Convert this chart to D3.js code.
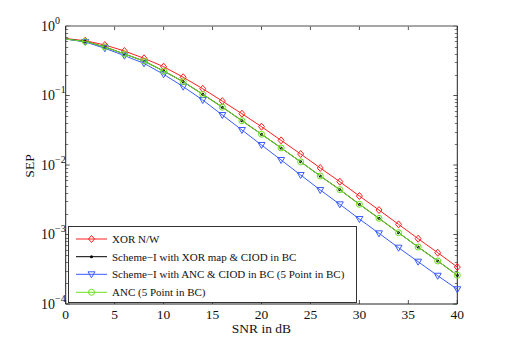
<!DOCTYPE html>
<html>
<head>
<meta charset="utf-8">
<script src="https://cdn.jsdelivr.net/npm/d3@7"></script>
<style>
  body { margin: 0; background: #fff; }
  text { font-family: "Liberation Serif", "DejaVu Serif", serif; fill: #111; }
</style>
</head>
<body>
<div id="chart"></div>
<script>
// SNR points (dB)
const snr = [0, 2, 4, 6, 8, 10, 12, 14, 16, 18, 20, 22, 24, 26, 28, 30, 32, 34, 36, 38, 40];

// SEP values
const xorNW = [0.66, 0.614, 0.533, 0.437, 0.343, 0.26, 0.183, 0.125, 0.083, 0.0547, 0.0356,
  0.0226, 0.0144, 0.00906, 0.00575, 0.00358, 0.00225, 0.0014, 0.00087, 0.000547, 0.00034];
const schemeXor = [0.65, 0.598, 0.499, 0.396, 0.313, 0.225, 0.158, 0.104, 0.068, 0.0434, 0.0277,
  0.0176, 0.0111, 0.00695, 0.00441, 0.00272, 0.00171, 0.00106, 0.00066, 0.000416, 0.000259];
const schemeAnc = [0.65, 0.589, 0.478, 0.374, 0.29, 0.202, 0.134, 0.086, 0.0524, 0.0319, 0.0194,
  0.0118, 0.00718, 0.00437, 0.00272, 0.00167, 0.00104, 0.000646, 0.000406, 0.000255, 0.000163];
const anc5 = schemeXor.slice();

const seriesNames = ["XOR N/W", "Scheme\u2212I with XOR map & CIOD in BC",
  "Scheme\u2212I with ANC & CIOD in BC (5 Point in BC)", "ANC (5 Point in BC)"];
const seriesColors = ["#ff1f1f", "#000000", "#3a5cff", "#6ae01c"];
const seriesMarkers = ["diamond", "dot", "triangle", "circle"];
const seriesValues = [xorNW, schemeXor, schemeAnc, anc5];

const xTicks = [0, 5, 10, 15, 20, 25, 30, 35, 40];
const yExps = [0, -1, -2, -3, -4];

const W = 505, H = 346;
const pLeft = 65.7, pRight = 457.3, pTop = 26, pBottom = 304;

const svg = d3.select("#chart").append("svg")
    .attr("width", W).attr("height", H);

const x = d3.scaleLinear().domain([0, 40]).range([pLeft, pRight]);
const y = d3.scaleLog().domain([1e-4, 1]).range([pBottom, pTop]);

// ticks: inward, on all four sides
const minor = y.ticks().filter(v => Math.abs(Math.log10(v) - Math.round(Math.log10(v))) > 1e-6);
const tickCol = "#555";

const gx = svg.append("g");
gx.append("g").selectAll("line").data(xTicks).enter().append("line")
    .attr("x1", d => x(d)).attr("x2", d => x(d))
    .attr("y1", pBottom).attr("y2", pBottom - 4).attr("stroke", tickCol);
gx.append("g").selectAll("line").data(xTicks).enter().append("line")
    .attr("x1", d => x(d)).attr("x2", d => x(d))
    .attr("y1", pTop).attr("y2", pTop + 4).attr("stroke", tickCol);

const gy = svg.append("g");
[pLeft, pRight].forEach((px, i) => {
  const dir = i === 0 ? 1 : -1;
  gy.append("g").selectAll("line").data(yExps).enter().append("line")
      .attr("x1", px).attr("x2", px + dir * 4)
      .attr("y1", d => y(Math.pow(10, d))).attr("y2", d => y(Math.pow(10, d)))
      .attr("stroke", tickCol);
  gy.append("g").selectAll("line").data(minor).enter().append("line")
      .attr("x1", px).attr("x2", px + dir * 2.5)
      .attr("y1", d => Math.round(y(d)) + 0.5).attr("y2", d => Math.round(y(d)) + 0.5)
      .attr("stroke", "#777");
});

// frame
svg.append("line").attr("x1", pLeft).attr("x2", pRight).attr("y1", pTop).attr("y2", pTop)
    .attr("stroke", "#888").attr("stroke-width", 1.6);
svg.append("line").attr("x1", pLeft).attr("x2", pRight).attr("y1", pBottom).attr("y2", pBottom)
    .attr("stroke", "#222");
svg.append("line").attr("x1", pLeft).attr("x2", pLeft).attr("y1", pTop).attr("y2", pBottom)
    .attr("stroke", "#222");
svg.append("line").attr("x1", pRight).attr("x2", pRight).attr("y1", pTop).attr("y2", pBottom)
    .attr("stroke", "#222");

// tick labels
svg.append("g").selectAll("text").data(xTicks).enter().append("text")
    .attr("x", d => x(d)).attr("y", 319)
    .attr("text-anchor", "middle").attr("font-size", 13.5)
    .text(d => d);

const yl = svg.append("g").selectAll("text").data(yExps).enter().append("text")
    .attr("x", 41).attr("y", d => y(Math.pow(10, d)) + 4.5)
    .attr("font-size", 14);
yl.append("tspan").text("10");
yl.append("tspan").attr("dy", -7).attr("font-size", 10)
    .text(d => d === 0 ? "0" : "\u2212" + Math.abs(d));

svg.append("text").attr("x", (pLeft + pRight) / 2).attr("y", 333)
    .attr("text-anchor", "middle").attr("font-size", 13.5).text("SNR in dB");
svg.append("text").attr("transform", "translate(34,166) rotate(-90)")
    .attr("text-anchor", "middle").attr("font-size", 13.5).text("SEP");

// markers
function drawMarker(g, type, color, cx, cy) {
  if (type === "diamond") {
    g.append("path").attr("d", `M${cx},${cy - 3.5}L${cx + 3},${cy}L${cx},${cy + 3.5}L${cx - 3},${cy}Z`)
        .attr("fill", "none").attr("stroke", color);
  } else if (type === "dot") {
    g.append("circle").attr("cx", cx).attr("cy", cy).attr("r", 1.5).attr("fill", color);
  } else if (type === "triangle") {
    g.append("path").attr("d", `M${cx - 3.5},${cy - 2.5}L${cx + 3.5},${cy - 2.5}L${cx},${cy + 3.5}Z`)
        .attr("fill", "none").attr("stroke", color);
  } else {
    g.append("circle").attr("cx", cx).attr("cy", cy).attr("r", 3)
        .attr("fill", "none").attr("stroke", color);
  }
}

const line = d3.line().x(d => x(d[0])).y(d => y(d[1]));

seriesValues.forEach((vals, i) => {
  const pts = snr.map((s, j) => [s, vals[j]]);
  const g = svg.append("g");
  g.append("path").datum(pts).attr("d", line)
      .attr("fill", "none").attr("stroke", seriesColors[i]).attr("stroke-width", 1);
  pts.filter(p => p[0] > 0).forEach(p => drawMarker(g, seriesMarkers[i], seriesColors[i], x(p[0]), y(p[1])));
});

// legend
const lg = svg.append("g");
lg.append("rect").attr("x", 68.5).attr("y", 226.5).attr("width", 288).attr("height", 76)
    .attr("fill", "#fff").attr("stroke", "#333");
const legY = [239, 256.7, 274.3, 292.3];
seriesNames.forEach((name, i) => {
  lg.append("line").attr("x1", 76).attr("x2", 107).attr("y1", legY[i]).attr("y2", legY[i])
      .attr("stroke", seriesColors[i]);
  drawMarker(lg, seriesMarkers[i], seriesColors[i], 91.5, legY[i]);
  lg.append("text").attr("x", 112).attr("y", legY[i] + 4).attr("font-size", 11).text(name);
});
</script>
</body>
</html>
